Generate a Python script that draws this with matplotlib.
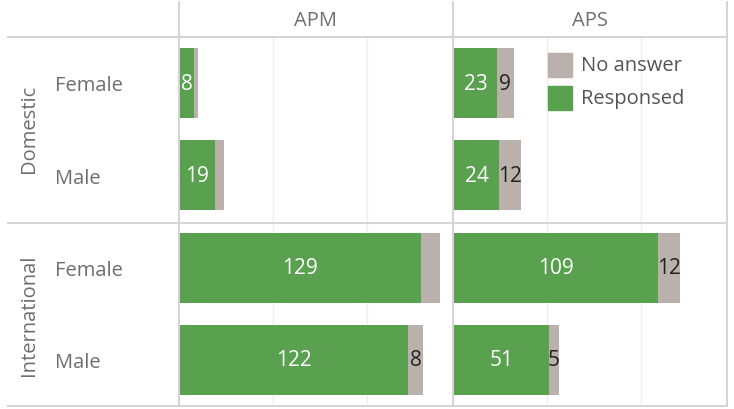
import matplotlib
matplotlib.use("Agg")
import matplotlib.pyplot as plt
from matplotlib.lines import Line2D
from matplotlib.patches import Rectangle

plt.rcParams["font.family"] = ["Open Sans", "DejaVu Sans"]

# ---------------------------------------------------------------------------
#  Data
# ---------------------------------------------------------------------------
programs = ["APM", "APS"]
groups = ["Domestic", "International"]
genders = ["Female", "Male"]

# rows: Domestic Female, Domestic Male, International Female, International Male
responsed = {
    "APM": [8, 19, 129, 122],
    "APS": [23, 24, 109, 51],
}
no_answer = {
    "APM": [2, 5, 10, 8],
    "APS": [9, 12, 12, 5],
}
# which "No answer" labels are visible in the original
na_label_shown = {
    "APM": [False, False, False, True],
    "APS": [True, True, True, True],
}

GREEN = "#59a14f"
GREY = "#bab0ac"
LINE = "#d4d4d4"
TXT = "#6e6e6e"

W, H = 734, 410
fig = plt.figure(figsize=(W / 100, H / 100), dpi=100)


def fx(x):
    return x / W


def fy(y):
    return 1 - y / H


def hline(y, x0, x1):
    fig.add_artist(Line2D([fx(x0), fx(x1)], [fy(y), fy(y)], color=LINE, lw=1.4,
                          transform=fig.transFigure))


def vline(x, y0, y1):
    fig.add_artist(Line2D([fx(x), fx(x)], [fy(y0), fy(y1)], color=LINE, lw=1.4,
                          transform=fig.transFigure))


top, bot = 38, 407
panels = [(179, 453), (454, 727)]

for (x0, x1), prog in zip(panels, programs):
    ax = fig.add_axes([fx(x0), fy(bot), fx(x1 - x0), (bot - top) / H])
    ypos = list(range(4))
    r = responsed[prog]
    n = no_answer[prog]
    ax.barh(ypos, r, height=0.76, color=GREEN, zorder=2)
    ax.barh(ypos, n, left=r, height=0.76, color=GREY, zorder=2)
    for i in ypos:
        ax.text(r[i] / 2, i, str(r[i]), ha="center", va="center",
                color="white", fontsize=15, zorder=3)
        if na_label_shown[prog][i]:
            ax.text(r[i] + n[i] / 2, i, str(n[i]), ha="center", va="center",
                    color="#222222", fontsize=15, zorder=3)
    ax.set_xlim(0, 146)
    ax.set_ylim(3.5, -0.5)
    ax.set_xticks([50, 100])
    ax.grid(axis="x", color="#efefef", lw=1.0, zorder=0)
    ax.set_yticks([])
    ax.tick_params(axis="x", length=0, labelbottom=False)
    for s in ax.spines.values():
        s.set_visible(False)
    fig.text(fx((x0 + x1) / 2), fy(21), prog, ha="center", va="center",
             color=TXT, fontsize=14.5)

# grid frame lines
hline(38, 8, 727)
hline(224, 8, 727)
hline(407, 8, 727)
for x in (179, 453, 727):
    vline(x, 3, 407)

# row headers
group_centers = [129, 315]
row_centers = [86, 179, 271, 363]
for g, yc in zip(groups, group_centers):
    fig.text(fx(29), fy(yc), g, rotation=90, ha="center", va="center",
             color=TXT, fontsize=14.5)
for i, yc in enumerate(row_centers):
    fig.text(fx(55), fy(yc), genders[i % 2], ha="left", va="center",
             color=TXT, fontsize=14.5)

# legend
for (label, col), yc in zip([("No answer", GREY), ("Responsed", GREEN)], [66, 99]):
    fig.add_artist(Rectangle((fx(548), fy(yc + 12)), fx(24), 24 / H,
                             color=col, transform=fig.transFigure))
    fig.text(fx(581), fy(yc), label, ha="left", va="center", color="#555555",
             fontsize=14.5)

fig.savefig("out.png", dpi=100)
